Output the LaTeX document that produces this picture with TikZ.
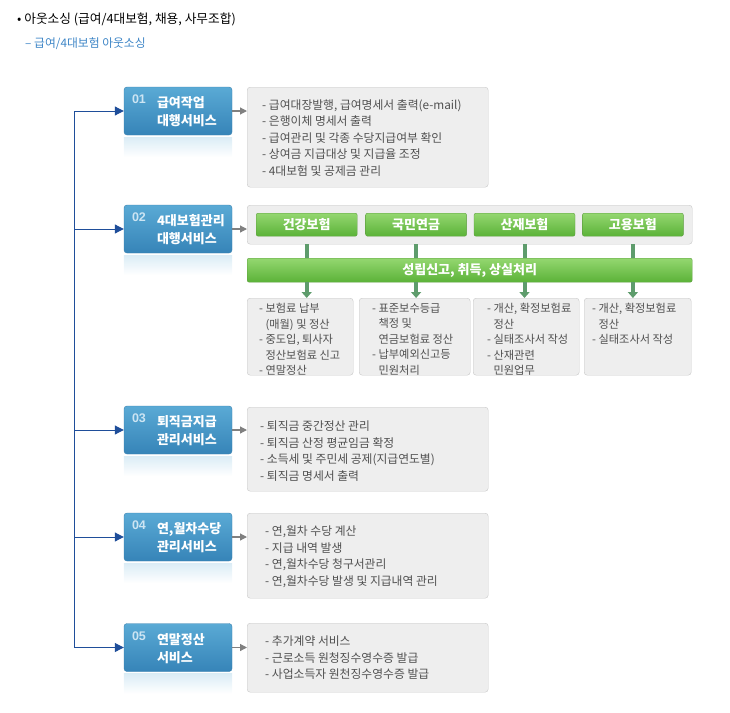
\documentclass[tikz,border=0pt]{standalone}
\usepackage{fontspec}
\setmainfont{Noto Sans CJK KR}
\newfontfamily\numfont{Liberation Sans}
\usetikzlibrary{positioning,arrows.meta}
\definecolor{TrunkBlue}{HTML}{1F4E9A}
\definecolor{BoxBlueTop}{HTML}{5AAAD5}
\definecolor{BoxBlueBot}{HTML}{3684B8}
\definecolor{BoxBlueLine}{HTML}{3A80AE}
\definecolor{NumBlue}{HTML}{CDE5F3}
\definecolor{PanelGrey}{HTML}{EEEEEE}
\definecolor{PanelLine}{HTML}{C8C8C8}
\definecolor{ItemGrey}{HTML}{505050}
\definecolor{BarTop}{HTML}{94D770}
\definecolor{BarBot}{HTML}{5BB238}
\definecolor{BarLine}{HTML}{5E9E40}
\definecolor{StemGreen}{HTML}{5E9C6C}
\definecolor{SubBlue}{HTML}{3D85C6}

\begin{document}
\begin{tikzpicture}[x=1pt, y=-1pt,
    svcbox/.style={draw=BoxBlueLine, top color=BoxBlueTop, bottom color=BoxBlueBot, rounded corners=3pt, minimum width=108pt, minimum height=48pt, inner sep=0pt},
    svcnum/.style={font=\numfont\bfseries\fontsize{12.5}{14}\selectfont, text=NumBlue, inner sep=0pt, anchor=north west},
    svctitle/.style={font=\bfseries\fontsize{13}{18}\selectfont, text=white, align=left, inner sep=0pt, anchor=west},
    panel/.style={draw=PanelLine, fill=PanelGrey, rounded corners=3pt, anchor=north west, inner sep=0pt},
    items/.style={font=\fontsize{11.8}{16.5}\selectfont, text=ItemGrey, align=left, inner sep=0pt, anchor=north west},
    subitems/.style={items, font=\fontsize{11.2}{15.5}\selectfont},
    bar/.style={draw=BarLine, top color=BarTop, bottom color=BarBot, rounded corners=2pt, text=white, font=\bfseries\fontsize{13}{15}\selectfont, inner sep=0pt},
    trunk/.style={TrunkBlue, line width=1pt},
    trunkarrow/.style={trunk, -{Triangle[width=9pt,length=9pt]}},
    link/.style={gray, line width=1.2pt, -{Triangle[width=7pt,length=7pt]}},
    stem/.style={StemGreen, line width=4pt},
    stemarrow/.style={stem, -{Triangle[width=10pt,length=6pt]}}
  ]
  \useasboundingbox (0,0) rectangle (730,712);

  % Titre
  \node[font=\fontsize{12.7}{15}\selectfont, anchor=west, inner sep=0pt] (head) at (17,19) {• 아웃소싱 (급여/4대보험, 채용, 사무조합)};
  \node[font=\fontsize{11.8}{14}\selectfont, text=SubBlue, anchor=west, inner sep=0pt] (subhead) at (25,44) {– 급여/4대보험 아웃소싱};

  % Boîtes bleues (services)
  \node[svcbox] (s1) at (178,111) {};
  \node[svcbox] (s2) at (178,229) {};
  \node[svcbox] (s3) at (178,430) {};
  \node[svcbox] (s4) at (178,537) {};
  \node[svcbox] (s5) at (178,647.5) {};
  \foreach \i in {1,...,5}
    \shade[top color=BoxBlueTop!22, bottom color=white] ([yshift=-2pt]s\i.south west) rectangle ([yshift=-22pt]s\i.south east);

  \node[svcnum] at ([xshift=8pt,yshift=-8pt]s1.north west) {01};
  \node[svcnum] at ([xshift=8pt,yshift=-8pt]s2.north west) {02};
  \node[svcnum] at ([xshift=8pt,yshift=-8pt]s3.north west) {03};
  \node[svcnum] at ([xshift=8pt,yshift=-8pt]s4.north west) {04};
  \node[svcnum] at ([xshift=8pt,yshift=-8pt]s5.north west) {05};
  \node[svctitle] at ([xshift=33pt,yshift=-1pt]s1.west) {급여작업\\대행서비스};
  \node[svctitle] at ([xshift=33pt,yshift=-1pt]s2.west) {4대보험관리\\대행서비스};
  \node[svctitle] at ([xshift=33pt,yshift=-1pt]s3.west) {퇴직금지급\\관리서비스};
  \node[svctitle] at ([xshift=33pt,yshift=-1pt]s4.west) {연,월차수당\\관리서비스};
  \node[svctitle] at ([xshift=33pt,yshift=-1pt]s5.west) {연말정산\\서비스};

  % Panneaux gris
  \node[panel, minimum width=241pt, minimum height=100pt] (p1) at (247,87) {};
  \node[panel, minimum width=445pt, minimum height=39pt] (p2) at (247,205) {};
  \node[panel, minimum width=241pt, minimum height=84pt] (p3) at (247,407) {};
  \node[panel, minimum width=241pt, minimum height=85pt] (p4) at (247,513) {};
  \node[panel, minimum width=241pt, minimum height=69pt] (p5) at (247,623) {};

  \node[items] (t1) at ([xshift=15pt,yshift=-12pt]p1.north west) {- 급여대장발행, 급여명세서 출력(e-mail)\\- 은행이체 명세서 출력\\- 급여관리 및 각종 수당지급여부 확인\\- 상여금 지급대상 및 지급율 조정\\- 4대보험 및 공제금 관리};
  \node[items] (t3) at ([xshift=13pt,yshift=-14pt]p3.north west) {- 퇴직금 중간정산 관리\\- 퇴직금 산정 평균임금 확정\\- 소득세 및 주민세 공제(지급연도별)\\- 퇴직금 명세서 출력};
  \node[items] (t4) at ([xshift=18pt,yshift=-13pt]p4.north west) {- 연,월차 수당 계산\\- 지급 내역 발생\\- 연,월차수당 청구서관리\\- 연,월차수당 발생 및 지급내역 관리};
  \node[items] (t5) at ([xshift=18pt,yshift=-13pt]p5.north west) {- 추가계약 서비스\\- 근로소득 원청징수영수증 발급\\- 사업소득자 원천징수영수증 발급};

  % Barres vertes (4대보험)
  \node[bar, anchor=north west, minimum width=101pt, minimum height=23pt] (g1) at (256,213) {건강보험};
  \node[bar, minimum width=101pt, minimum height=23pt, right=8pt of g1] (g2) {국민연금};
  \node[bar, minimum width=101pt, minimum height=23pt, right=7pt of g2] (g3) {산재보험};
  \node[bar, minimum width=101pt, minimum height=23pt, right=7pt of g3] (g4) {고용보험};
  \node[bar, anchor=north west, minimum width=445pt, minimum height=24pt] (reg) at (247,258) {성립신고, 취득, 상실처리};

  % Sous-panneaux
  \node[panel, minimum width=106pt, minimum height=77pt] (d1) at (247,298) {};
  \node[panel, minimum width=111pt, minimum height=77pt] (d2) at (359,298) {};
  \node[panel, minimum width=106pt, minimum height=77pt] (d3) at (473,298) {};
  \node[panel, minimum width=107pt, minimum height=77pt] (d4) at (584,298) {};
  \node[subitems] at ([xshift=12pt,yshift=-5pt]d1.north west) {- 보험료 납부\\\phantom{- }(매월) 및 정산\\- 중도입, 퇴사자\\\phantom{- }정산보험료 신고\\- 연말정산};
  \node[subitems] at ([xshift=13pt,yshift=-5pt]d2.north west) {- 표준보수등급\\\phantom{- }책정 및\\\phantom{- }연금보험료 정산\\- 납부예외신고등\\\phantom{- }민원처리};
  \node[subitems] at ([xshift=14pt,yshift=-5pt]d3.north west) {- 개산, 확정보험료\\\phantom{- }정산\\- 실태조사서 작성\\- 산재관련\\\phantom{- }민원업무};
  \node[subitems] at ([xshift=8pt,yshift=-5pt]d4.north west) {- 개산, 확정보험료\\\phantom{- }정산\\- 실태조사서 작성};

  % Liaisons vertes
  \foreach \i in {1,...,4} {
    \draw[stem] (g\i |- p2.south) -- (g\i |- reg.north);
    \draw[stemarrow] (g\i |- reg.south) -- (g\i |- d\i.north);
  }

  % Tronc bleu et flèches
  \coordinate (trunk) at (74,0);
  \draw[trunk] (s1.west -| trunk) -- (s5.west -| trunk);
  \foreach \i in {1,...,5} {
    \draw[trunkarrow] (s\i.west -| trunk) -- (s\i.west);
    \draw[link] (s\i.east) -- (s\i.east -| p\i.west);
  }
\end{tikzpicture}
\end{document}
